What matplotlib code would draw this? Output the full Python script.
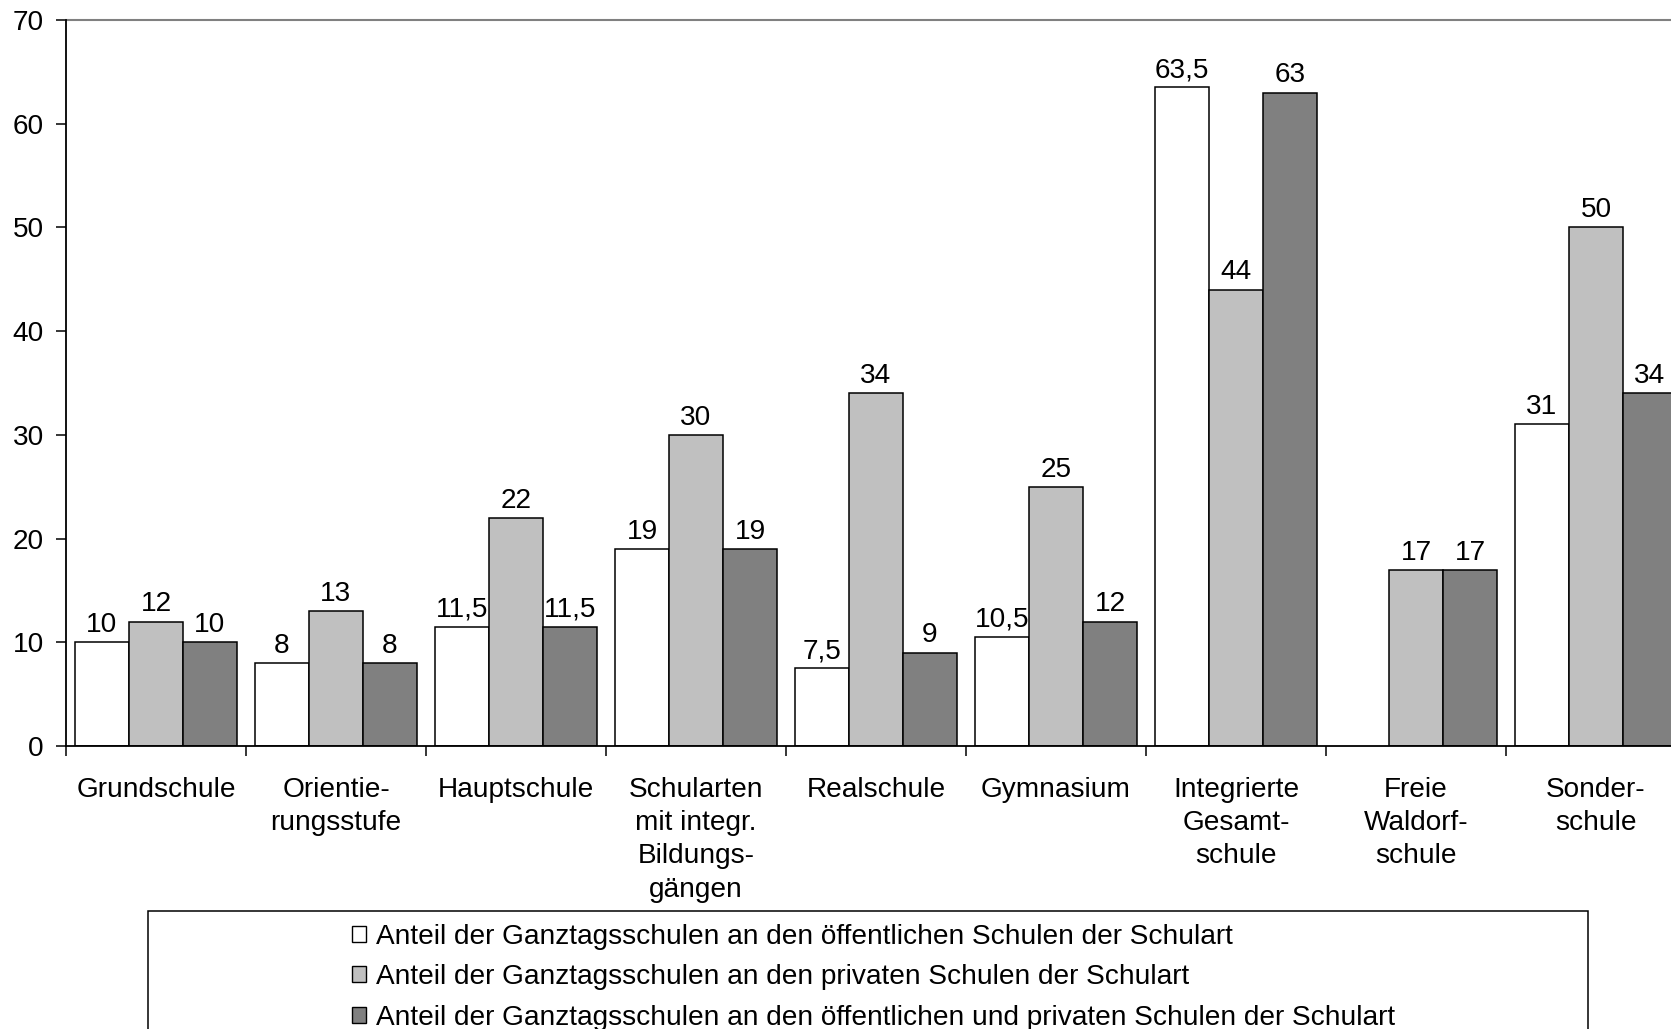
import numpy as np
import matplotlib
matplotlib.use("Agg")
import matplotlib.pyplot as plt
from matplotlib.patches import Patch, Rectangle

plt.rcParams['font.family'] = ['Liberation Sans', 'DejaVu Sans']

categories = ["Grundschule", "Orientie-\nrungsstufe", "Hauptschule",
              "Schularten\nmit integr.\nBildungs-\ngängen", "Realschule",
              "Gymnasium", "Integrierte\nGesamt-\nschule", "Freie\nWaldorf-\nschule",
              "Sonder-\nschule"]
oeffentlich = [10, 8, 11.5, 19, 7.5, 10.5, 63.5, np.nan, 31]
privat = [12, 13, 22, 30, 34, 25, 44, 17, 50]
gesamt = [10, 8, 11.5, 19, 9, 12, 63, 17, 34]
series_labels = [
    "Anteil der Ganztagsschulen an den öffentlichen Schulen der Schulart",
    "Anteil der Ganztagsschulen an den privaten Schulen der Schulart",
    "Anteil der Ganztagsschulen an den öffentlichen und privaten Schulen der Schulart",
]
colors = ["#FFFFFF", "#C0C0C0", "#808080"]
yticks = [0, 10, 20, 30, 40, 50, 60, 70]

W, H = 1671, 1029
fig = plt.figure(figsize=(W / 100, H / 100), dpi=100)
ax = fig.add_axes([66 / W, 283 / H, 1620 / W, 726 / H])

fs = 20.2
x = np.arange(len(categories))
bw = 0.3
for i, (vals, col) in enumerate(zip([oeffentlich, privat, gesamt], colors)):
    pos = x + (i - 1) * bw
    ax.bar(pos, vals, width=bw, color=col, edgecolor="black", linewidth=1.1,
           zorder=3)
    for p, v in zip(pos, vals):
        if np.isnan(v):
            continue
        txt = f"{v:g}".replace(".", ",")
        ax.annotate(txt, (p, v), xytext=(0, 3), textcoords="offset points",
                    ha="center", va="bottom", fontsize=fs)

ax.set_xlim(-0.5, len(categories) - 0.5)
ax.set_ylim(0, 70)
ax.set_yticks(yticks)
ax.set_yticklabels([str(t) for t in yticks], fontsize=fs)
ax.tick_params(axis="y", direction="out", length=7, width=1.1, pad=9)

ax.set_xticks(x)
ax.set_xticklabels(categories, fontsize=fs, linespacing=1.37, va="top")
ax.tick_params(axis="x", which="major", length=0, pad=22)
ax.set_xticks(np.arange(len(categories) + 1) - 0.5, minor=True)
ax.tick_params(axis="x", which="minor", direction="out", length=7, width=1.1)

ax.spines["right"].set_visible(False)
ax.spines["top"].set_color("#808080")
ax.spines["top"].set_linewidth(1.5)
for s in ("left", "bottom"):
    ax.spines[s].set_linewidth(1.3)
    ax.spines[s].set_zorder(4)

# legend frame and entries
fig.patches.append(Rectangle((148 / W, -0.05), 1440 / W, 0.05 + 1 - 911 / H,
                             transform=fig.transFigure, facecolor="white",
                             edgecolor="black", linewidth=1.1))
handles = [Patch(facecolor=c, edgecolor="black", linewidth=1.0) for c in colors]
fig.legend(handles, series_labels, loc="upper left",
           bbox_to_anchor=(352 / W, 1 - 924 / H), frameon=False, fontsize=fs,
           handlelength=0.5, handleheight=0.5, handletextpad=0.35,
           labelspacing=0.51, borderpad=0, borderaxespad=0)

fig.savefig("out.png", dpi=100)
